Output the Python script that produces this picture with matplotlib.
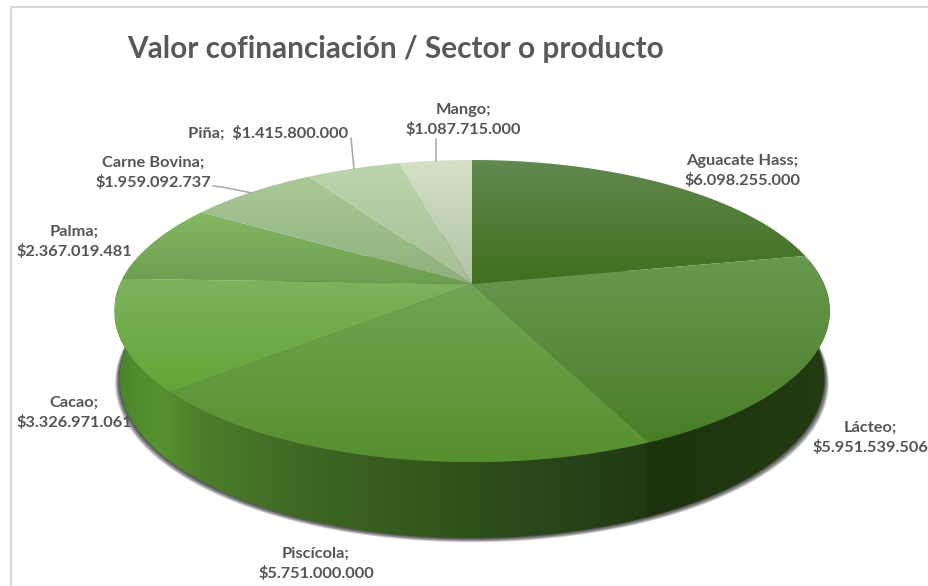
import numpy as np
import matplotlib
matplotlib.use("Agg")
import matplotlib.pyplot as plt
from matplotlib.colors import to_rgb
from matplotlib.patches import Polygon

# Data
names = ["Aguacate Hass", "Lácteo", "Piscícola", "Cacao", "Palma", "Carne Bovina", "Piña", "Mango"]
values = [6098255000, 5951539506, 5751000000, 3326971061, 2367019481, 1959092737, 1415800000, 1087715000]
title = "Valor cofinanciación / Sector o producto"

# Styles: top face gradient of each slice (upper colour, lower colour)
top_cols = [("#62894f", "#3f6f1e"), ("#68994f", "#497e27"), ("#70a653", "#568f2e"), ("#7db35e", "#64a436"),
            ("#84b865", "#6c9f4d"), ("#a9c997", "#8eb17b"), ("#bdd5ad", "#a5be94"), ("#d3e1c7", "#b2c3a5")]
label_pos = [(742, 171), (870, 438), (316, 564), (74, 413), (74, 242), (153, 173), (268, 133), (463, 120)]
wall_x = [115, 130, 160, 200, 300, 450, 560, 645, 650, 740, 835]
wall_cols = ["#47802a", "#4d8a2c", "#57922f", "#4c7f29", "#3f6823", "#30541a", "#28451a", "#213a12", "#1d330d", "#203710", "#243b13"]
leaders = [([436, 436], [139, 161]), ([351, 354], [138, 169]), ([213, 222, 252], [186, 187, 193])]

# Perspective pie: unit circle projected onto the picture
cx, cy = 472, 284
ax_x, ax_y, k = 352, 146.2, 0.179


def project(theta):
    X, Y = np.sin(theta), np.cos(theta)
    d = 1 + k * Y
    return cx + ax_x * X / d, cy - ax_y * Y / d


def project_bottom(theta):
    x, y = project(theta)
    return cx + (x - cx) * 0.985, y + 66 - 10 * np.cos(theta)


def gradient(ax, poly, c1, c2):
    c1, c2 = np.array(to_rgb(c1)), np.array(to_rgb(c2))
    t = np.linspace(0, 1, 200)[:, None]
    img = (c1 * (1 - t) + c2 * t)[:, None, :]
    xs, ys = poly[:, 0], poly[:, 1]
    im = ax.imshow(img, extent=(xs.min(), xs.max(), ys.max(), ys.min()), aspect="auto", zorder=4, interpolation="bilinear")
    im.set_clip_path(Polygon(poly, closed=True, transform=ax.transData))


fig = plt.figure(figsize=(9.29, 5.86), dpi=100)
ax = fig.add_axes([0, 0, 1, 1])
plt.rcParams["font.family"] = ["Lato", "DejaVu Sans"]

# chart frame
ax.plot([11, 11, 929], [586, 6.5, 6.5], color="#d9d9d9", lw=1.5, zorder=1)

# soft shadow under the wall
th = np.radians(np.linspace(80, 280, 300))
bx, by = project_bottom(th)
for i in range(1, 8):
    sx = cx + (bx - cx) * (1 + 0.0018 * i)
    sy = by + 0.6 * i
    ax.fill(np.r_[sx, cx], np.r_[sy, by[0] - 100], color="#000000", alpha=0.14, lw=0, zorder=2)

# side wall with horizontal gradient
th_wall = np.radians(np.linspace(80, 280, 400))
tx, ty = project(th_wall)
bx, by = project_bottom(th_wall)
wall = np.column_stack([np.r_[tx, bx[::-1]], np.r_[ty, by[::-1]]])
grid = np.linspace(wall_x[0], wall_x[-1], 720)
rgb = np.array([to_rgb(c) for c in wall_cols])
strip = np.stack([np.interp(grid, wall_x, rgb[:, i]) for i in range(3)], axis=1)[None, :, :]
im = ax.imshow(strip, extent=(wall_x[0], wall_x[-1], wall[:, 1].max(), wall[:, 1].min()), aspect="auto", zorder=3)
im.set_clip_path(Polygon(wall, closed=True, transform=ax.transData))

# top faces
edges = np.r_[0, np.cumsum(values)] / np.sum(values) * 2 * np.pi
for i in range(len(values)):
    t = np.linspace(edges[i], edges[i + 1], 200)
    x, y = project(t)
    poly = np.column_stack([np.r_[cx, x], np.r_[cy, y]])
    gradient(ax, poly, top_cols[i][0], top_cols[i][1])

# leader lines
for lx, ly in leaders:
    ax.plot(lx, ly, color="#a6a6a6", lw=1.1, zorder=5)

# labels
for i, name in enumerate(names):
    money = "$" + f"{values[i]:,}".replace(",", ".")
    sep = ";  " if name == "Piña" else ";\n"
    ax.text(label_pos[i][0], label_pos[i][1], name + sep + money, ha="center", va="center", fontsize=11.8,
            fontweight="bold", color="#555555", linespacing=1.42, zorder=6)

ax.text(127, 49, title, ha="left", va="center", fontsize=21.4, fontweight="bold", color="#595959", zorder=6)

ax.set_xlim(0, 929)
ax.set_ylim(586, 0)
ax.axis("off")
fig.savefig("out.png", dpi=100)
